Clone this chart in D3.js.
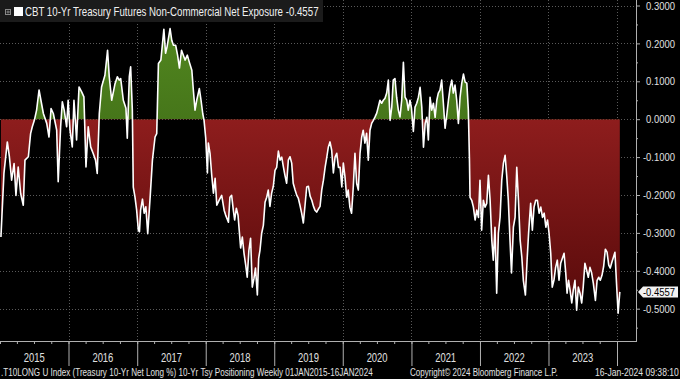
<!DOCTYPE html>
<html><head><meta charset="utf-8">
<script src="https://cdn.jsdelivr.net/npm/d3@7"></script>
<style>
html,body{margin:0;padding:0;background:#000;overflow:hidden;}
svg{display:block;}
text{font-family:"Liberation Sans Narrow","Arial Narrow","Liberation Sans",Arial,sans-serif;}
</style></head><body>
<svg id="chart" width="680" height="379"></svg>
<script>
// ---------- DATA ----------
const dates = [
"2015-01-06","2015-01-22","2015-02-09","2015-02-20","2015-03-04","2015-03-17","2015-03-27","2015-04-08","2015-04-21","2015-05-05","2015-05-14","2015-06-01","2015-06-13","2015-06-22","2015-07-03","2015-07-15","2015-07-28","2015-08-07","2015-08-20","2015-09-07","2015-09-19","2015-09-30","2015-10-12","2015-10-30","2015-11-07","2015-11-20","2015-11-29","2015-12-09","2015-12-22","2015-12-30",
"2016-01-09","2016-01-21","2016-01-30","2016-02-13","2016-02-26","2016-03-11","2016-03-23","2016-04-03","2016-04-15","2016-04-28","2016-05-12","2016-05-24","2016-06-02","2016-06-13","2016-06-25","2016-07-13","2016-07-27","2016-08-05","2016-08-18","2016-09-04","2016-09-17","2016-09-27","2016-10-05","2016-10-19","2016-11-02","2016-11-09","2016-11-20","2016-11-27","2016-12-06","2016-12-11","2016-12-20","2016-12-29",
"2017-01-07","2017-01-13","2017-01-19","2017-01-29","2017-02-07","2017-02-16","2017-02-26","2017-03-11","2017-03-23","2017-04-06","2017-04-15","2017-04-24","2017-05-07","2017-05-23","2017-06-01","2017-06-09","2017-06-25","2017-07-04","2017-07-13","2017-07-25","2017-08-04","2017-08-14","2017-08-25","2017-09-13","2017-09-25","2017-10-06","2017-10-19","2017-10-27","2017-11-05","2017-11-14","2017-11-28","2017-12-07","2017-12-16","2017-12-23",
"2018-01-01","2018-01-10","2018-01-15","2018-01-24","2018-02-02","2018-02-11","2018-02-20","2018-03-01","2018-03-13","2018-03-27","2018-04-09","2018-04-17","2018-05-02","2018-05-10","2018-05-19","2018-05-28","2018-06-04","2018-06-13","2018-06-22","2018-07-06","2018-07-15","2018-07-24","2018-08-02","2018-08-10","2018-08-19","2018-08-28","2018-09-06","2018-09-15","2018-09-23","2018-10-03","2018-10-10","2018-10-17","2018-10-26","2018-11-04","2018-11-13","2018-11-22","2018-11-30","2018-12-09","2018-12-18","2018-12-27",
"2019-01-05","2019-01-14","2019-01-23","2019-02-01","2019-02-10","2019-02-18","2019-02-27","2019-03-08","2019-03-17","2019-03-26","2019-04-04","2019-04-12","2019-04-22","2019-05-01","2019-05-09","2019-05-18","2019-05-27","2019-06-05","2019-06-14","2019-06-23","2019-07-02","2019-07-11","2019-07-20","2019-07-29","2019-08-06","2019-08-15","2019-08-24","2019-09-02","2019-09-11","2019-09-20","2019-09-29","2019-10-08","2019-10-16","2019-10-25","2019-11-03","2019-11-12","2019-11-21","2019-11-30","2019-12-09","2019-12-18","2019-12-27",
"2020-01-04","2020-01-13","2020-01-22","2020-01-30","2020-02-08","2020-02-17","2020-02-26","2020-03-06","2020-03-15","2020-03-24","2020-04-02","2020-04-11","2020-04-19","2020-04-28","2020-05-07","2020-05-16","2020-05-25","2020-06-03","2020-06-12","2020-06-21","2020-06-30","2020-07-08","2020-07-17","2020-07-26","2020-08-04","2020-08-13","2020-08-22","2020-08-31","2020-09-09","2020-09-18","2020-09-26","2020-10-05","2020-10-14","2020-10-23","2020-11-01","2020-11-10","2020-11-19","2020-11-28","2020-12-07","2020-12-15","2020-12-24",
"2021-01-01","2021-01-11","2021-01-20","2021-01-29","2021-02-07","2021-02-16","2021-02-25","2021-03-06","2021-03-15","2021-03-24","2021-04-01","2021-04-10","2021-04-19","2021-04-28","2021-05-07","2021-05-16","2021-05-24","2021-06-02","2021-06-11","2021-06-20","2021-06-29","2021-07-08","2021-07-17","2021-07-26","2021-08-04","2021-08-12","2021-08-21","2021-08-30","2021-09-08","2021-09-17","2021-09-26","2021-10-05","2021-10-14","2021-10-23","2021-10-31","2021-11-06","2021-11-09","2021-11-18","2021-11-27","2021-12-06","2021-12-15","2021-12-24",
"2022-01-01","2022-01-10","2022-01-19","2022-01-28","2022-02-06","2022-02-15","2022-02-24","2022-03-05","2022-03-13","2022-03-22","2022-03-31","2022-04-09","2022-04-18","2022-04-27","2022-05-06","2022-05-15","2022-05-24","2022-06-01","2022-06-10","2022-06-18","2022-06-28","2022-07-07","2022-07-16","2022-07-25","2022-08-03","2022-08-12","2022-08-20","2022-08-31","2022-09-09","2022-09-17","2022-09-28","2022-10-07","2022-10-16","2022-10-25","2022-11-03","2022-11-12","2022-11-21","2022-11-30","2022-12-09","2022-12-18","2022-12-27",
"2023-01-04","2023-01-13","2023-01-21","2023-01-30","2023-02-08","2023-02-17","2023-02-26","2023-03-07","2023-03-16","2023-03-25","2023-04-03","2023-04-10","2023-04-18","2023-04-26","2023-05-05","2023-05-13","2023-05-22","2023-05-31","2023-06-09","2023-06-18","2023-06-27","2023-07-05","2023-07-14","2023-07-23","2023-08-01","2023-08-10","2023-08-19","2023-08-28","2023-09-08","2023-09-17","2023-09-26","2023-10-04","2023-10-13","2023-10-22","2023-10-31","2023-11-09","2023-11-18","2023-11-26","2023-12-05","2023-12-13","2023-12-21","2023-12-30",
"2024-01-07","2024-01-16"
];
const netExposure = [
-0.311,-0.143,-0.060,-0.099,-0.161,-0.117,-0.201,-0.126,-0.196,-0.227,-0.108,-0.099,-0.038,-0.020,-0.003,0.024,0.077,0.050,0.015,-0.011,-0.047,0.028,0.015,-0.029,-0.165,-0.020,0.046,0.024,-0.020,0.050,
-0.029,-0.073,0.050,-0.055,0.085,0.072,0.059,-0.126,-0.020,-0.073,-0.091,-0.108,-0.143,0.015,0.085,0.116,0.182,0.112,0.050,0.092,0.112,0.103,0.107,0.050,0.029,-0.050,0.113,0.138,0.024,-0.179,-0.205,-0.240,
-0.293,-0.297,-0.240,-0.211,-0.248,-0.231,-0.302,-0.205,-0.108,-0.047,-0.038,0.147,0.156,0.237,0.174,0.191,0.239,0.208,0.195,0.195,0.169,0.135,0.182,0.156,0.169,0.150,0.129,0.077,0.024,0.050,0.081,0.050,0.015,-0.003,
-0.050,-0.142,-0.063,-0.091,-0.148,-0.195,-0.156,-0.227,-0.214,-0.201,-0.240,-0.253,-0.272,-0.206,-0.201,-0.240,-0.266,-0.235,-0.253,-0.340,-0.311,-0.354,-0.385,-0.417,-0.346,-0.314,-0.443,-0.420,-0.393,-0.464,-0.367,-0.346,-0.301,-0.280,-0.219,-0.206,-0.187,-0.230,-0.195,-0.177,
-0.135,-0.127,-0.084,-0.108,-0.100,-0.124,-0.148,-0.169,-0.108,-0.099,-0.116,-0.169,-0.187,-0.201,-0.208,-0.227,-0.248,-0.274,-0.227,-0.179,-0.177,-0.203,-0.214,-0.230,-0.240,-0.245,-0.237,-0.230,-0.187,-0.161,-0.127,-0.100,-0.074,-0.060,-0.082,-0.142,-0.100,-0.090,-0.127,-0.127,-0.179,
-0.116,-0.153,-0.206,-0.187,-0.232,-0.248,-0.179,-0.090,-0.169,-0.187,-0.090,-0.047,-0.029,-0.063,-0.037,-0.108,-0.029,-0.011,-0.003,0.006,0.016,0.032,0.050,0.042,0.050,0.055,0.069,0.103,-0.003,0.032,0.103,0.107,0.058,0.024,0.006,0.050,0.150,0.058,0.050,0.024,0.050,
0.029,-0.032,0.032,0.042,0.058,0.084,0.032,-0.074,-0.011,0.005,-0.055,0.058,0.024,0.042,0.005,0.050,0.069,0.077,0.103,0.042,-0.024,0.011,0.050,0.084,0.103,0.069,0.090,0.050,-0.011,0.058,0.095,0.119,0.098,0.095,0.024,-0.108,-0.206,-0.214,-0.232,-0.266,-0.240,-0.259,
-0.161,-0.293,-0.214,-0.232,-0.222,-0.148,-0.214,-0.319,-0.372,-0.285,-0.459,-0.301,-0.259,-0.161,-0.116,-0.095,-0.153,-0.214,-0.319,-0.406,-0.285,-0.259,-0.127,-0.214,-0.319,-0.364,-0.425,-0.464,-0.372,-0.301,-0.222,-0.293,-0.232,-0.214,-0.214,-0.248,-0.232,-0.259,-0.248,-0.285,-0.266,
-0.301,-0.354,-0.443,-0.425,-0.391,-0.372,-0.425,-0.380,-0.367,-0.354,-0.406,-0.459,-0.425,-0.451,-0.485,-0.451,-0.425,-0.504,-0.443,-0.459,-0.485,-0.443,-0.380,-0.398,-0.417,-0.391,-0.406,-0.433,-0.478,-0.425,-0.417,-0.425,-0.412,-0.388,-0.343,-0.351,-0.385,-0.393,-0.377,-0.364,-0.351,-0.438,
-0.512,-0.4557
];
const yMajorTicks = [0.3,0.2,0.1,0.0,-0.1,-0.2,-0.3,-0.4,-0.5];
const yMinorTicks = [0.25,0.15,0.05,-0.05,-0.15,-0.25,-0.35,-0.45,-0.55];
const yearLabels = ["2015","2016","2017","2018","2019","2020","2021","2022","2023"];
const yearBoundaries = ["2016","2017","2018","2019","2020","2021","2022","2023","2024"];
const seriesName = "CBT 10-Yr Treasury Futures Non-Commercial Net Exposure";
const footerLeft = ".T10LONG U Index (Treasury 10-Yr Net Long %) 10-Yr Tsy Positioning  Weekly 01JAN2015-16JAN2024";
const footerMid = "Copyright\u00A9 2024 Bloomberg Finance L.P.";
const footerRight = "16-Jan-2024 09:38:10";

// ---------- CHART ----------
const parse = d3.timeParse("%Y-%m-%d");
const data = dates.map((d,i)=>({date:parse(d), v:netExposure[i]}));
const fmt = v => (Math.abs(v)<1e-9?0:v).toFixed(4);

const svg = d3.select("#chart");
const plotRight = 636, plotBottom = 341;

// narrow-font look: shrink the font horizontally-equivalent by reducing size and
// stretching vertically back to the wanted height
function squeeze(sel, factor, baseSize){
  sel.each(function(){
    const t = d3.select(this);
    const px = +t.attr("x")||0, py = +t.attr("y")||0;
    t.attr("x",0).attr("y",0).attr("font-size", baseSize*factor)
     .attr("transform", `translate(${px},${py}) scale(1,${(1/factor).toFixed(4)})`);
  });
}
function measure(str, size){
  const p = svg.append("text").attr("font-size",size).text(str);
  const w = p.node().getComputedTextLength(); p.remove(); return w;
}
function squeezeTo(sel, width, baseSize){
  const w = sel.node().getComputedTextLength();
  squeeze(sel, width / w, baseSize);
}

const x = d3.scaleTime().domain([new Date(2015,0,1), new Date(2024,0,1)]).range([0,617]);
const y = d3.scaleLinear().domain([-0.5,0.3]).range([308.7,5.5]);

svg.append("rect").attr("width",680).attr("height",379).attr("fill","#000");

const defs = svg.append("defs");
const rg = defs.append("linearGradient").attr("id","redG").attr("gradientUnits","userSpaceOnUse")
  .attr("x1",0).attr("x2",0).attr("y1",y(0)).attr("y2",y(-0.52));
rg.append("stop").attr("offset",0).attr("stop-color","#8e1d1d");
rg.append("stop").attr("offset",1).attr("stop-color","#560a0a");
const gg = defs.append("linearGradient").attr("id","greenG").attr("gradientUnits","userSpaceOnUse")
  .attr("x1",0).attr("x2",0).attr("y1",y(0.25)).attr("y2",y(0));
gg.append("stop").attr("offset",0).attr("stop-color","#52871f");
gg.append("stop").attr("offset",1).attr("stop-color","#46761a");
defs.append("clipPath").attr("id","clipUp").append("rect")
  .attr("x",0).attr("y",0).attr("width",plotRight).attr("height",y(0));
defs.append("clipPath").attr("id","clipDown").append("rect")
  .attr("x",0).attr("y",y(0)).attr("width",plotRight).attr("height",plotBottom-y(0));

// gridlines
const grid = svg.append("g").attr("stroke","#5a5a5a").attr("stroke-width",1).attr("stroke-dasharray","1,2");
grid.selectAll("line.h").data(yMajorTicks).join("line").attr("class","h")
  .attr("x1",0).attr("x2",plotRight).attr("y1",d=>Math.round(y(d))+0.5).attr("y2",d=>Math.round(y(d))+0.5);
grid.selectAll("line.v").data(yearBoundaries).join("line").attr("class","v")
  .attr("x1",d=>Math.round(x(new Date(+d,0,1)))+0.5).attr("x2",d=>Math.round(x(new Date(+d,0,1)))+0.5)
  .attr("y1",0).attr("y2",plotBottom);

// areas
const area = d3.area().x(d=>x(d.date)).y0(y(0)).y1(d=>y(d.v));
svg.append("path").datum(data).attr("d",area).attr("fill","url(#greenG)").attr("clip-path","url(#clipUp)");
svg.append("path").datum(data).attr("d",area).attr("fill","url(#redG)").attr("clip-path","url(#clipDown)");

// line
const line = d3.line().x(d=>x(d.date)).y(d=>y(d.v));
svg.append("path").datum(data).attr("d",line).attr("fill","none").attr("stroke","#fff")
  .attr("stroke-width",1.6).attr("stroke-linejoin","round");

// reference width ratio for axis-like labels ("0.3000" ~ 29px wide in the reference)
const axisFactor = 29 / measure("0.3000", 11.5);

// right axis
const axisColor = "#b0b0b0";
const ra = svg.append("g").attr("transform",`translate(${plotRight},0)`).attr("font-family",null);
ra.call(d3.axisRight(y).tickValues(yMajorTicks).tickSize(4).tickFormat(fmt));
ra.attr("font-family",null).attr("font-size",null);
ra.call(g=>g.select(".domain").remove());
ra.selectAll(".tick line").attr("stroke",axisColor);
ra.selectAll(".tick text").attr("fill","#e0e0e0").attr("x",39).attr("text-anchor","end");
squeeze(ra.selectAll(".tick text"), axisFactor, 11.5);
const rminor = svg.append("g").attr("transform",`translate(${plotRight},0)`);
rminor.call(d3.axisRight(y).tickValues(yMinorTicks).tickSize(2).tickFormat(""));
rminor.call(g=>g.select(".domain").remove());
rminor.selectAll(".tick line").attr("stroke",axisColor);
svg.append("line").attr("x1",plotRight+0.5).attr("x2",plotRight+0.5).attr("y1",0).attr("y2",plotBottom+1)
  .attr("stroke",axisColor);

// bottom axis
svg.append("line").attr("x1",0).attr("x2",plotRight+1).attr("y1",plotBottom+0.5).attr("y2",plotBottom+0.5)
  .attr("stroke",axisColor);
const qa = svg.append("g").attr("transform",`translate(0,${plotBottom})`);
qa.call(d3.axisBottom(x).ticks(d3.timeMonth.every(3)).tickSize(3).tickFormat(""));
qa.call(g=>g.select(".domain").remove());
qa.selectAll(".tick line").attr("stroke",axisColor);
const ya = svg.append("g").attr("transform",`translate(0,${plotBottom})`);
ya.call(d3.axisBottom(x).tickValues(yearBoundaries.map(d=>new Date(+d,0,1))).tickSize(25).tickFormat(""));
ya.call(g=>g.select(".domain").remove());
ya.selectAll(".tick line").attr("stroke",axisColor);
const yl = svg.append("g").selectAll("text").data(yearLabels).join("text")
  .attr("x",d=>x(new Date(+d,6,2))).attr("y",362).attr("text-anchor","middle")
  .attr("fill","#e0e0e0").text(d=>d);
squeeze(yl, 21 / measure("2015", 12), 12);

// last value marker
const last = data[data.length-1];
const ly = y(last.v);
svg.append("path").attr("d",`M${plotRight+2},${ly} L${plotRight+7},${ly-5.5} L678,${ly-5.5} L678,${ly+5.5} L${plotRight+7},${ly+5.5} Z`)
  .attr("fill","#f2f2f2");
const lv = svg.append("text").attr("x",675).attr("y",ly).attr("dy","0.36em").attr("text-anchor","end")
  .attr("fill","#000").text(fmt(last.v));
squeeze(lv, axisFactor, 11.5);

// legend box
svg.append("rect").attr("x",0).attr("y",0).attr("width",323).attr("height",22).attr("fill","#1b1b1b");
svg.append("rect").attr("x",5.5).attr("y",9.5).attr("width",5).attr("height",5).attr("fill","none").attr("stroke","#888");
svg.append("path").attr("d","M6.5,12 H10 M8,10.5 V13.5").attr("stroke","#888");
svg.append("rect").attr("x",14).attr("y",7).attr("width",9).attr("height",9).attr("fill","#fff");
const lt = svg.append("text").attr("x",25).attr("y",16).attr("fill","#f0f0f0").attr("font-size",12)
  .text(seriesName + " " + fmt(last.v));
squeezeTo(lt, 294, 12);

// footer
const foot = svg.append("g").attr("fill","#e0e0e0");
const f1 = foot.append("text").attr("x",1).attr("y",376).attr("font-size",10).text(footerLeft);
squeezeTo(f1, 372, 10);
const f2 = foot.append("text").attr("x",410).attr("y",376).attr("font-size",10).text(footerMid);
squeezeTo(f2, 148, 10);
const f3 = foot.append("text").attr("x",595).attr("y",376).attr("font-size",10).text(footerRight);
squeezeTo(f3, 84, 10);
</script>
</body></html>
